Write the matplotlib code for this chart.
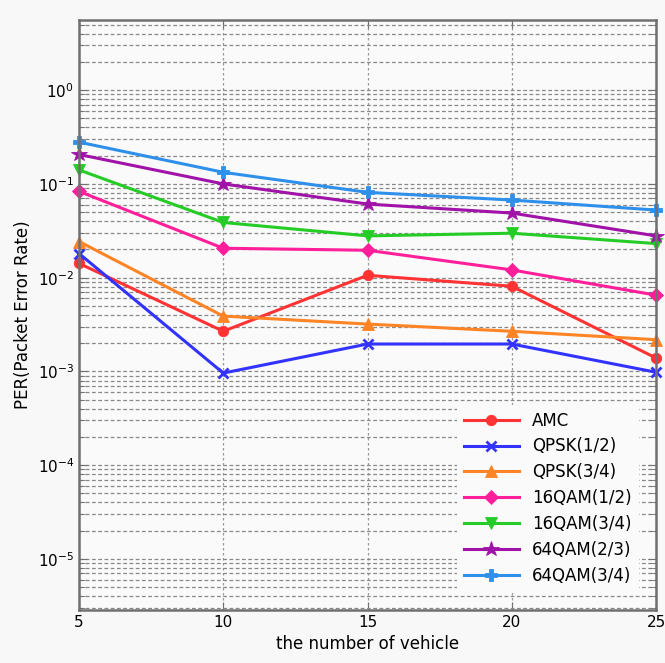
import matplotlib
matplotlib.use("Agg")
import matplotlib.pyplot as plt
from matplotlib.ticker import LogLocator, NullFormatter, FixedLocator

vehicles = [5, 10, 15, 20, 25]
amc = [0.0142, 0.00268, 0.0106, 0.0081, 0.00139]
qpsk12 = [0.0181, 0.00096, 0.00196, 0.00196, 0.00098]
qpsk34 = [0.0243, 0.00389, 0.0032, 0.00268, 0.00218]
qam16_12 = [0.0833, 0.0206, 0.0196, 0.0121, 0.00651]
qam16_34 = [0.141, 0.0388, 0.0279, 0.0298, 0.0231]
qam64_23 = [0.206, 0.100, 0.061, 0.0489, 0.0279]
qam64_34 = [0.279, 0.133, 0.0813, 0.0673, 0.0526]

series = [
    ("AMC", amc, "#ff3333", "o", 7.5),
    ("QPSK(1/2)", qpsk12, "#3333ff", "x", 7.5),
    ("QPSK(3/4)", qpsk34, "#ff8426", "^", 8),
    ("16QAM(1/2)", qam16_12, "#ff1f9b", "D", 7),
    ("16QAM(3/4)", qam16_34, "#26cc26", "v", 8),
    ("64QAM(2/3)", qam64_23, "#a012a8", "*", 11.5),
    ("64QAM(3/4)", qam64_34, "#2e90ea", "P", 9),
]

plt.rcParams['font.family'] = ['DejaVu Sans']
fig = plt.figure(figsize=(6.65, 6.63), dpi=100, facecolor="#f8f8f8")
ax = fig.add_axes([0.1188, 0.0799, 0.8677, 0.8899])
ax.set_facecolor("#fafafa")

for label, vals, color, marker, ms in series:
    kw = dict(markeredgewidth=2.0) if marker == "x" else dict(markeredgewidth=0.6)
    ax.plot(vehicles, vals, color=color, marker=marker, markersize=ms, linewidth=2.2,
            label=label, markeredgecolor=color, markerfacecolor=color, clip_on=False, **kw)

ax.set_yscale("log")
ax.set_xlim(5, 25)
ax.set_ylim(2.85e-6, 5.6)
ax.set_xticks(vehicles)
ax.yaxis.set_major_locator(FixedLocator([1e-5, 1e-4, 1e-3, 1e-2, 1e-1, 1e0]))
ax.yaxis.set_minor_locator(LogLocator(base=10, subs=range(2, 10), numticks=20))
ax.yaxis.set_minor_formatter(NullFormatter())

ax.grid(True, which="major", axis="y", linestyle=(0, (3, 2)), color="#888888", linewidth=0.9)
ax.grid(True, which="minor", axis="y", linestyle=(0, (3, 2)), color="#888888", linewidth=0.9)
ax.grid(True, which="major", axis="x", linestyle=(0, (2, 2)), color="#999999", linewidth=0.9)

for s in ax.spines.values():
    s.set_color("#707070")
    s.set_linewidth(1.8)
ax.tick_params(which="both", direction="in", top=True, right=True, color="#707070",
               labelsize=11, colors="#707070", labelcolor="black")
ax.tick_params(which="major", length=6)
ax.tick_params(which="minor", length=4)

ax.set_xlabel("the number of vehicle", fontsize=12)
ax.set_ylabel("PER(Packet Error Rate)", fontsize=12)

leg = ax.legend(loc="lower right", fontsize=12, frameon=True, handlelength=3.3,
                borderaxespad=0.7, labelspacing=0.47, fancybox=False,
                bbox_to_anchor=(0.99, 0.012))
leg.get_frame().set_facecolor("#fafafa")
leg.get_frame().set_edgecolor("none")
leg.get_frame().set_alpha(1.0)

fig.savefig("out.png", dpi=100, facecolor=fig.get_facecolor())
